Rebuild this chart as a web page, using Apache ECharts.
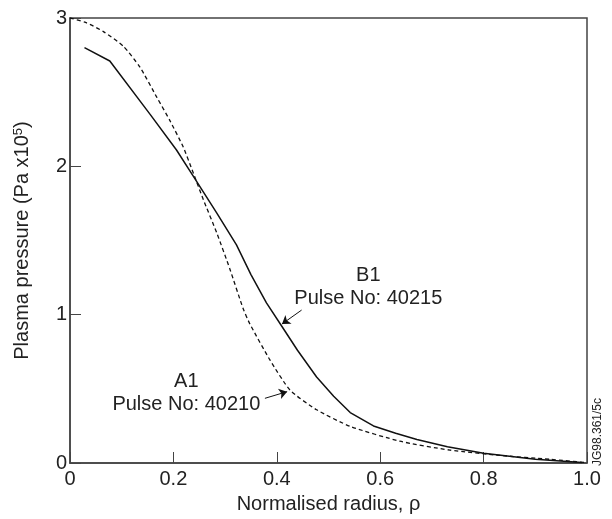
<!DOCTYPE html>
<html>
<head>
<meta charset="utf-8">
<script src="https://cdn.jsdelivr.net/npm/echarts@6/dist/echarts.min.js"></script>
<style>
  html, body { margin: 0; padding: 0; background: #fff; }
  #main { width: 612px; height: 519px; }
</style>
</head>
<body>
<div id="main"></div>
<script>
// B1, Pulse No: 40215 (solid)
let b1_x = [0.028, 0.077, 0.155, 0.206, 0.239, 0.284, 0.322, 0.35, 0.38, 0.41, 0.44, 0.477, 0.51, 0.542, 0.587, 0.63, 0.671, 0.73, 0.80, 0.90, 0.99];
let b1_y = [2.80, 2.71, 2.35, 2.11, 1.93, 1.685, 1.47, 1.27, 1.08, 0.92, 0.76, 0.58, 0.45, 0.34, 0.25, 0.20, 0.158, 0.11, 0.065, 0.025, 0.004];
// A1, Pulse No: 40210 (dashed)
let a1_x = [0, 0.03, 0.064, 0.103, 0.135, 0.168, 0.193, 0.219, 0.239, 0.258, 0.284, 0.309, 0.335, 0.348, 0.387, 0.426, 0.477, 0.542, 0.638, 0.735, 0.832, 0.928, 1.0];
let a1_y = [3.0, 2.97, 2.91, 2.81, 2.67, 2.465, 2.31, 2.13, 1.95, 1.775, 1.55, 1.31, 1.04, 0.937, 0.693, 0.49, 0.359, 0.247, 0.147, 0.087, 0.051, 0.025, 0.002];
let x_ticks = [0, 0.2, 0.4, 0.6, 0.8, 1.0];
let x_tick_labels = ["0", "0.2", "0.4", "0.6", "0.8", "1.0"];

let chartDom = document.getElementById("main");
let myChart = echarts.init(chartDom);
let axisColor = "#444";
let fontFam = "'Liberation Sans', Arial, sans-serif";

function pairs(xs, ys) {
    return xs.map((x, i) => [x, ys[i]]);
}

// arrow from label towards the curve
function arrow(from, to) {
    return {
        silent: true,
        symbol: ["none", "arrow"],
        symbolSize: 8,
        label: { show: false },
        lineStyle: { color: "#111", width: 1, type: "solid" },
        data: [[{ coord: from }, { coord: to }]]
    };
}

let option = {
    animation: false,
    grid: {
        left: 70, right: 25, top: 18, bottom: 52,
        show: true, borderColor: axisColor, borderWidth: 1.5
    },
    xAxis: {
        type: "value", min: 0, max: 1, interval: 0.2,
        name: "Normalised radius, ρ",
        nameLocation: "middle", nameGap: 31,
        nameTextStyle: { fontSize: 20, color: "#222", fontFamily: fontFam },
        axisLine: { lineStyle: { color: axisColor, width: 1.5 } },
        axisTick: { inside: true, length: 11, lineStyle: { color: axisColor, width: 1 } },
        splitLine: { show: false },
        axisLabel: {
            fontSize: 20, color: "#222", fontFamily: fontFam, margin: 6,
            formatter: function (v) {
                let i = x_ticks.findIndex(t => Math.abs(t - v) < 1e-6);
                return i >= 0 ? x_tick_labels[i] : "";
            }
        }
    },
    yAxis: {
        type: "value", min: 0, max: 3, interval: 1,
        name: "{a|Plasma pressure (Pa x10}{s|5}{a|)}",
        nameLocation: "middle", nameGap: 37,
        nameTextStyle: {
            rich: {
                a: { fontSize: 20, color: "#222", fontFamily: fontFam },
                s: { fontSize: 13, color: "#222", fontFamily: fontFam, verticalAlign: "top", padding: [0, 0, 8, 0] }
            }
        },
        axisLine: { show: true, lineStyle: { color: axisColor, width: 1.5 } },
        axisTick: { show: true, inside: true, length: 11, lineStyle: { color: axisColor, width: 1 } },
        splitLine: { show: false },
        axisLabel: { fontSize: 20, color: "#222", fontFamily: fontFam, margin: 3 }
    },
    series: [
        {
            name: "B1",
            type: "line",
            data: pairs(b1_x, b1_y),
            showSymbol: false,
            lineStyle: { color: "#111", width: 1.5 },
            markLine: arrow([0.448, 1.031], [0.410, 0.937])
        },
        {
            name: "A1",
            type: "line",
            data: pairs(a1_x, a1_y),
            showSymbol: false,
            smooth: 0.2,
            lineStyle: { color: "#111", width: 1.3, type: [4, 3] },
            markLine: arrow([0.377, 0.436], [0.420, 0.481])
        }
    ]
};
myChart.setOption(option);

// text annotations placed through the chart's own scales
function place(x, y) {
    return myChart.convertToPixel({ gridIndex: 0 }, [x, y]);
}
let pB = place(0.577, 1.34);
let pA = place(0.225, 0.625);
let txtStyle = { fontSize: 20, fill: "#222", fontFamily: fontFam, align: "center", lineHeight: 23 };
myChart.setOption({
    graphic: [
        { type: "text", x: pB[0], y: pB[1], style: Object.assign({ text: "B1\nPulse No: 40215" }, txtStyle) },
        { type: "text", x: pA[0], y: pA[1], style: Object.assign({ text: "A1\nPulse No: 40210" }, txtStyle) },
        {
            type: "text", x: 598, y: 466, rotation: Math.PI / 2,
            style: { text: "JG98.361/5c", fontSize: 12, fill: "#222", fontFamily: fontFam, align: "left", verticalAlign: "middle" }
        }
    ]
});
</script>
</body>
</html>
